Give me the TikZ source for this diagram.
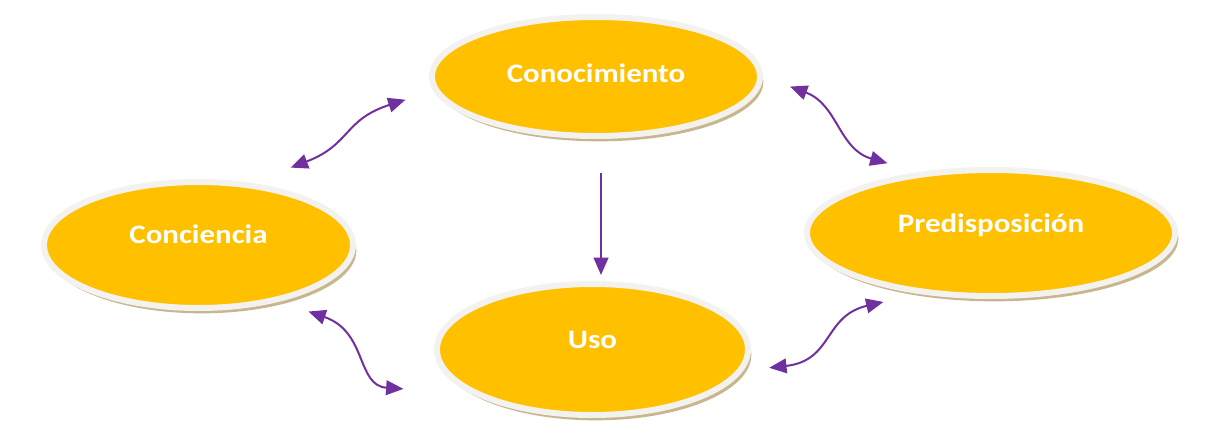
\documentclass[tikz,border=0pt]{standalone}
\usepackage{fontspec}
\setmainfont{Carlito}
\usetikzlibrary{shapes.geometric,shadows,arrows.meta}

\definecolor{goldfill}{RGB}{255,192,0}
\definecolor{ringgray}{RGB}{243,242,238}
\definecolor{shadowtan}{RGB}{200,182,142}
\definecolor{arrowpurple}{RGB}{112,48,160}

\tikzset{
  stage/.style={ellipse, fill=goldfill, draw=ringgray, line width=4.5pt, inner sep=0pt,
    drop shadow={shadow xshift=2.5pt, shadow yshift=-4pt, fill=shadowtan, opacity=1}},
  stagetext/.style={text=white, xscale=1.16, font=\fontsize{20}{24}\selectfont\bfseries},
  twoway/.style={{Triangle[length=13pt,width=11pt]}-{Triangle[length=13pt,width=11pt]}, draw=arrowpurple, line width=1.5pt},
  oneway/.style={-{Triangle[length=13pt,width=11pt]}, draw=arrowpurple, line width=1.5pt},
}

\begin{document}
\begin{tikzpicture}[x=0.75pt,y=0.75pt,yscale=-1,xscale=1]
\useasboundingbox[fill=white] (0,0) rectangle (1209,432);

% Ellipses
\node[stage, minimum width=246pt, minimum height=89.25pt, label={[stagetext,yshift=2.25pt]center:Conocimiento}] (conoc) at (596,76.5) {};
\node[stage, minimum width=231.75pt, minimum height=94.5pt, label={[stagetext,yshift=8pt]center:Conciencia}] (conc) at (198.5,245) {};
\node[stage, minimum width=233.25pt, minimum height=98.25pt, label={[stagetext,yshift=7.5pt]center:Uso}] (uso) at (592.5,349.5) {};
\node[stage, minimum width=276pt, minimum height=94.5pt, label={[stagetext,yshift=6pt]center:Predisposición}] (pred) at (991,233) {};

% Arrows
\draw[twoway, shorten <=32pt, shorten >=22pt] (conc.50) .. controls +(100,-38) and +(-90,29) .. (conoc.185);
\draw[twoway, shorten <=21.6pt, shorten >=24.2pt] (conoc.east) .. controls +(75,28) and +(-80,-23) .. (pred.140);
\draw[oneway, shorten <=25.5pt, shorten >=4.5pt] ([xshift=3.75pt]conoc.south) -- ([xshift=3.75pt]conoc.south |- uso.north);
\draw[twoway, shorten <=23pt, shorten >=51pt] (conc.-35) .. controls +(88,30) and +(-115,-8) .. (uso.200);
\draw[twoway, shorten <=19.6pt, shorten >=27pt] (uso.-8) .. controls +(90,-10) and +(-95,22) .. (pred.-140);

\end{tikzpicture}
\end{document}
